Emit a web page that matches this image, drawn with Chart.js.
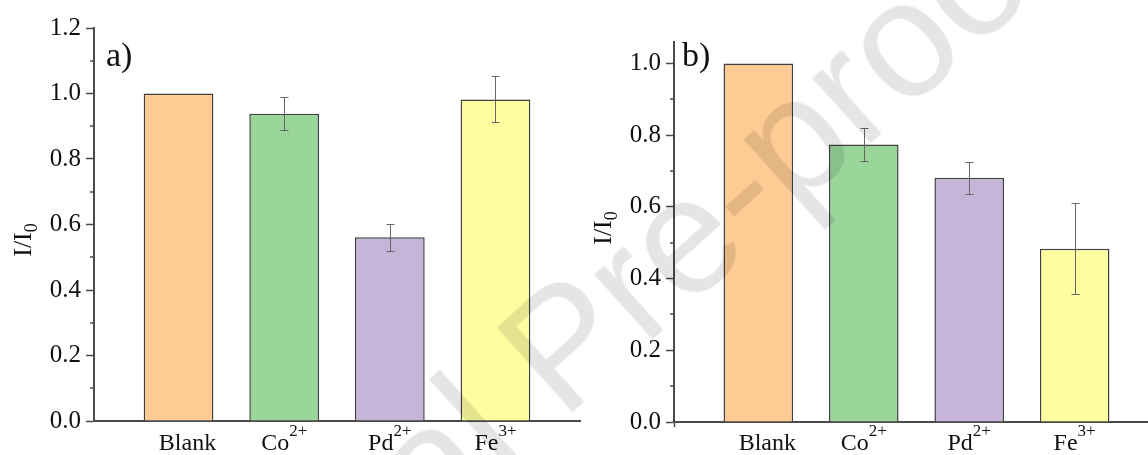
<!DOCTYPE html>
<html>
<head>
<meta charset="utf-8">
<script src="https://cdn.jsdelivr.net/npm/chart.js@4.4.1/dist/chart.umd.min.js"></script>
<style>
  html, body { margin: 0; padding: 0; background: #fff; overflow: hidden; }
  #wrap { position: relative; width: 1148px; height: 455px; overflow: hidden; background: #fff; }
  canvas { position: absolute; top: 0; }
  #pa { left: 0; }
  #pb { left: 574px; }
  #wm {
    position: absolute; left: 562px; top: 345px;
    transform: translate(-50%, -50%) rotate(-42deg);
    font: 165px "Liberation Sans", Arial, sans-serif; line-height: 1;
    color: rgba(0, 0, 0, 0.10); white-space: nowrap; pointer-events: none;
  }
</style>
</head>
<body>
<div id="wrap">
  <canvas id="pa" width="600" height="455"></canvas>
  <canvas id="pb" width="600" height="455"></canvas>
  <div id="wm">Journal Pre-proof</div>
</div>
<script>
// Ions tested and their charges (drawn as superscripts)
const categories = ['   Blank', 'Co', 'Pd', 'Fe'];
const charges = ['', '2+', '2+', '3+'];

// Panel a) relative intensity and standard deviation
const ratioA = [1.0, 0.938, 0.561, 0.982];
const errorA = [0, 0.050, 0.042, 0.070];

// Panel b) relative intensity and standard deviation
const ratioB = [1.0, 0.774, 0.681, 0.483];
const errorB = [0, 0.046, 0.044, 0.127];

// Axis ticks
const yTicksA = [0, 0.2, 0.4, 0.6, 0.8, 1.0, 1.2];
const yMinorA = [0.1, 0.3, 0.5, 0.7, 0.9, 1.1];
const yTicksB = [0, 0.2, 0.4, 0.6, 0.8, 1.0];
const yMinorB = [0.1, 0.3, 0.5, 0.7, 0.9];
const xTicksB = [2.5];

const barColors = ['#FDCB93', '#9AD69A', '#C6B5D8', '#FEFEA0'];
const SERIF = '"Liberation Serif", "Times New Roman", serif';
const AXIS = '#4a4a4a';

function decorPlugin(p) {
  return {
    id: 'decor',
    afterDatasetsDraw(chart) {
      const ctx = chart.ctx, ys = chart.scales.y;
      ctx.save();
      ctx.strokeStyle = '#666';
      ctx.lineWidth = 1;
      chart.getDatasetMeta(0).data.forEach((bar, i) => {
        const e = p.errors[i];
        if (!e) return;
        const v = p.values[i];
        const top = Math.round(ys.getPixelForValue(v + e)) + 0.5;
        const bot = Math.round(ys.getPixelForValue(v - e)) + 0.5;
        const cx = Math.round(bar.x) + 0.5;
        ctx.beginPath();
        ctx.moveTo(cx, top); ctx.lineTo(cx, bot);
        ctx.moveTo(cx - 4, top); ctx.lineTo(cx + 4, top);
        ctx.moveTo(cx - 4, bot); ctx.lineTo(cx + 4, bot);
        ctx.stroke();
      });
      ctx.restore();
    },
    afterDraw(chart) {
      const ctx = chart.ctx, xs = chart.scales.x, ys = chart.scales.y;
      const area = chart.chartArea;
      ctx.save();
      // minor ticks on the value axis
      ctx.strokeStyle = AXIS;
      ctx.lineWidth = 1.5;
      p.minor.forEach(v => {
        const y = Math.round(ys.getPixelForValue(v));
        ctx.beginPath();
        ctx.moveTo(area.left - 4, y); ctx.lineTo(area.left, y);
        ctx.stroke();
      });
      // category labels with superscript charges
      ctx.fillStyle = '#111';
      ctx.textBaseline = 'alphabetic';
      ctx.textAlign = 'left';
      categories.forEach((name, i) => {
        ctx.font = '24px ' + SERIF;
        const w1 = ctx.measureText(name).width;
        ctx.font = '17px ' + SERIF;
        const w2 = ctx.measureText(charges[i]).width;
        const cx = xs.getPixelForValue(i + 1);
        const x0 = cx - (w1 + w2) / 2;
        ctx.font = '24px ' + SERIF;
        ctx.fillText(name, x0, 450);
        ctx.font = '17px ' + SERIF;
        ctx.fillText(charges[i], x0 + w1, 436);
      });
      // axis title I/I0
      ctx.save();
      ctx.translate(p.titleX, p.titleY);
      ctx.rotate(-Math.PI / 2);
      ctx.font = '26px ' + SERIF;
      const tw = ctx.measureText('I/I').width;
      ctx.font = '18px ' + SERIF;
      const sw = ctx.measureText('0').width;
      const sx = -(tw + sw) / 2;
      ctx.font = '26px ' + SERIF;
      ctx.fillText('I/I', sx, 0);
      ctx.font = '18px ' + SERIF;
      ctx.fillText('0', sx + tw, 6);
      ctx.restore();
      // panel letter
      ctx.font = '34px ' + SERIF;
      ctx.fillText(p.letter, p.letterX, p.letterY);
      ctx.restore();
    }
  };
}

function makePanel(id, p) {
  return new Chart(document.getElementById(id), {
    type: 'bar',
    data: {
      datasets: [{
        data: p.values.map((v, i) => ({ x: i + 1, y: v })),
        backgroundColor: barColors,
        borderColor: '#404040',
        borderWidth: 1.5,
        categoryPercentage: 0.66,
        barPercentage: 1.0
      }]
    },
    options: {
      responsive: false,
      animation: false,
      devicePixelRatio: 1,
      layout: { padding: p.padding },
      plugins: { legend: { display: false }, tooltip: { enabled: false }, title: { display: false } },
      scales: {
        x: {
          type: 'linear',
          min: 0.2, max: 4.8,
          offset: false,
          afterBuildTicks: s => { s.ticks = p.xTicks.map(v => ({ value: v })); },
          afterFit: s => { s.height = p.xHeight; },
          ticks: { display: false },
          grid: { drawOnChartArea: false, drawTicks: true, tickLength: 5, tickColor: AXIS, tickWidth: 1.5 },
          border: { color: AXIS, width: 2 }
        },
        y: {
          min: 0, max: p.yMax,
          afterBuildTicks: s => { s.ticks = p.yTicks.map(v => ({ value: v })); },
          afterFit: s => { s.width = p.yWidth; },
          ticks: {
            color: '#111',
            padding: 5,
            font: { family: SERIF, size: 25 },
            callback: v => Number(v).toFixed(1)
          },
          grid: { drawOnChartArea: false, drawTicks: true, tickLength: 8, tickColor: AXIS, tickWidth: 1.5 },
          border: { color: AXIS, width: 2 }
        }
      }
    },
    plugins: [decorPlugin(p)]
  });
}

makePanel('pa', {
  values: ratioA, errors: errorA,
  yMax: 1.2, yTicks: yTicksA, minor: yMinorA, xTicks: [],
  yWidth: 94, xHeight: 34,
  padding: { top: 28, right: 20, left: 0, bottom: 0 },
  titleX: 31, titleY: 240,
  letter: 'a)', letterX: 106, letterY: 66
});

makePanel('pb', {
  values: ratioB, errors: errorB,
  yMax: 1.06, yTicks: yTicksB, minor: yMinorB, xTicks: xTicksB,
  yWidth: 100, xHeight: 33,
  padding: { top: 42, right: 15, left: 0, bottom: 0 },
  titleX: 37, titleY: 228,
  letter: 'b)', letterX: 108, letterY: 66
});
</script>
</body>
</html>
